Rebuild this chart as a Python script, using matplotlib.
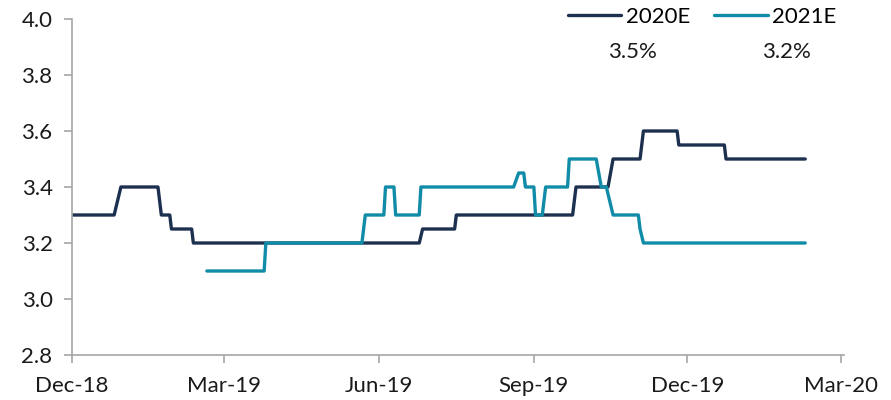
import matplotlib
matplotlib.use("Agg")
import matplotlib.pyplot as plt
import matplotlib.dates as mdates
import pandas as pd

# consensus forecasts (each step as end/start pair)
dates_2020 = ["2018-12-01", "2018-12-26", "2018-12-30", "2019-01-21", "2019-01-23",
              "2019-01-28", "2019-01-29", "2019-02-10", "2019-02-11", "2019-06-25",
              "2019-06-27", "2019-07-16", "2019-07-17", "2019-09-24", "2019-09-26",
              "2019-10-15", "2019-10-18", "2019-11-03", "2019-11-04", "2019-11-05",
              "2019-11-25", "2019-11-26", "2019-12-23", "2019-12-24", "2020-02-09"]
vals_2020 = [3.3, 3.3, 3.4, 3.4, 3.3,
             3.3, 3.25, 3.25, 3.2, 3.2,
             3.25, 3.25, 3.3, 3.3, 3.4,
             3.4, 3.5, 3.5, 3.55, 3.6,
             3.6, 3.55, 3.55, 3.5, 3.5]

dates_2021 = ["2019-02-19", "2019-03-25", "2019-03-26", "2019-05-22", "2019-05-24",
              "2019-06-04", "2019-06-05", "2019-06-10", "2019-06-11", "2019-06-25",
              "2019-06-26", "2019-08-20", "2019-08-23", "2019-08-26", "2019-08-27",
              "2019-09-01", "2019-09-02", "2019-09-06", "2019-09-08", "2019-09-21",
              "2019-09-22", "2019-10-08", "2019-10-11", "2019-10-14", "2019-10-18",
              "2019-11-02", "2019-11-03", "2019-11-05", "2020-02-09"]
vals_2021 = [3.1, 3.1, 3.2, 3.2, 3.3,
             3.3, 3.4, 3.4, 3.3, 3.3,
             3.4, 3.4, 3.45, 3.45, 3.4,
             3.4, 3.3, 3.3, 3.4, 3.4,
             3.5, 3.5, 3.4, 3.4, 3.3,
             3.3, 3.25, 3.2, 3.2]

latest = ["3.5%", "3.2%"]
tick_dates = ["2018-12-01", "2019-03-01", "2019-06-01", "2019-09-01", "2019-12-01", "2020-03-01"]

navy = "#1d3050"
teal = "#118ca8"
grey = "#a6a6a6"

plt.rcParams["font.family"] = ["Lato", "DejaVu Sans"]

fig = plt.figure(figsize=(8.91, 4.0), dpi=100)
ax = fig.add_axes([72 / 891, 45 / 400, (844 - 72) / 891, (355 - 19) / 400])

ax.plot(pd.to_datetime(dates_2020), vals_2020, color=navy, lw=2.4, label="2020E",
        solid_capstyle="round")
ax.plot(pd.to_datetime(dates_2021), vals_2021, color=teal, lw=2.4, label="2021E",
        solid_capstyle="round")

ax.set_ylim(2.8, 4.0)
ax.set_yticks([2.8, 3.0, 3.2, 3.4, 3.6, 3.8, 4.0])
ax.yaxis.set_major_formatter(matplotlib.ticker.FormatStrFormatter("%.1f"))
ax.set_xlim(pd.Timestamp("2018-12-01"), pd.Timestamp("2020-03-03"))
ax.set_xticks(pd.to_datetime(tick_dates))
ax.xaxis.set_major_formatter(mdates.DateFormatter("%b-%y"))

for s in ["top", "right"]:
    ax.spines[s].set_visible(False)
for s in ["left", "bottom"]:
    ax.spines[s].set_color(grey)
    ax.spines[s].set_linewidth(1.2)
ax.tick_params(axis="both", colors=grey, labelcolor="#1a1a1a", labelsize=16,
               length=6, width=1.2)
ax.tick_params(axis="x", pad=9)
ax.tick_params(axis="y", pad=8)

fig.legend(loc="center left", bbox_to_anchor=(568 / 891, 1 - 17 / 400), ncol=2,
           frameon=False, fontsize=16, handlelength=2.4, handletextpad=0.2,
           columnspacing=1.1, borderpad=0, borderaxespad=0)
fig.text(632 / 891, 1 - 52 / 400, latest[0], ha="center", va="center", fontsize=16,
         color="#1a1a1a")
fig.text(786 / 891, 1 - 52 / 400, latest[1], ha="center", va="center", fontsize=16,
         color="#1a1a1a")

fig.savefig("out.png", dpi=100)
